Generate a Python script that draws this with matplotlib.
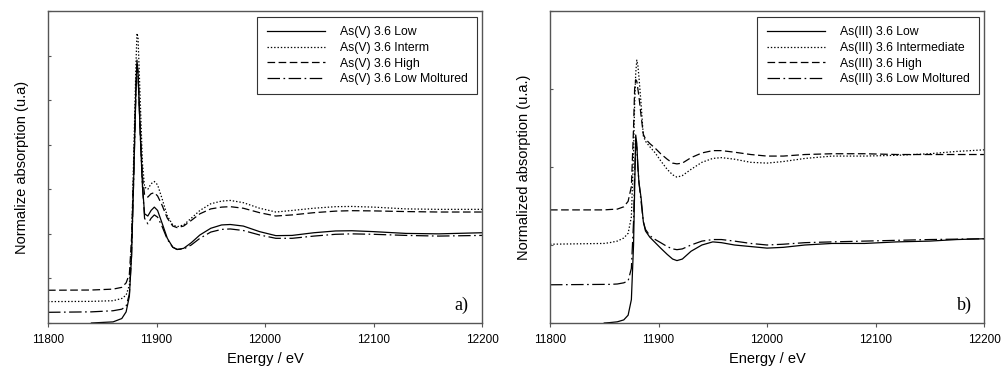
import numpy as np
import matplotlib
matplotlib.use("Agg")
import matplotlib.pyplot as plt

plt.rcParams['font.family'] = ['Liberation Sans', 'DejaVu Sans']
plt.rcParams['lines.scale_dashes'] = False

nan = np.nan

# ---- panel a) As(V) ----
energy_a = [11800, 11840, 11860, 11868, 11872, 11875, 11877, 11879, 11881, 11882,
            11883, 11885, 11887, 11889, 11892, 11895, 11898, 11901, 11905, 11910,
            11915, 11919, 11925, 11932, 11940, 11950, 11960, 11968, 11980, 11995,
            12010, 12025, 12045, 12065, 12080, 12100, 12130, 12160, 12200]
asv_low = [nan, 0.0, 0.005, 0.02, 0.05, 0.12, 0.3, 0.65, 1.05, 1.18,
           1.12, 0.85, 0.62, 0.49, 0.48, 0.505, 0.52, 0.505, 0.45, 0.38,
           0.34, 0.33, 0.335, 0.36, 0.395, 0.425, 0.44, 0.442, 0.435, 0.41,
           0.392, 0.393, 0.405, 0.413, 0.414, 0.41, 0.402, 0.40, 0.405]
asv_interm = [0.096, 0.097, 0.10, 0.11, 0.125, 0.17, 0.35, 0.75, 1.15, 1.30,
              1.28, 1.0, 0.72, 0.61, 0.60, 0.625, 0.635, 0.62, 0.56, 0.48,
              0.44, 0.432, 0.44, 0.47, 0.505, 0.535, 0.547, 0.55, 0.54, 0.515,
              0.498, 0.505, 0.515, 0.522, 0.523, 0.52, 0.512, 0.51, 0.51]
asv_high = [0.147, 0.148, 0.152, 0.16, 0.18, 0.22, 0.38, 0.7, 1.05, 1.16,
            1.12, 0.88, 0.66, 0.575, 0.565, 0.58, 0.585, 0.57, 0.53, 0.47,
            0.435, 0.428, 0.435, 0.46, 0.49, 0.512, 0.52, 0.522, 0.515, 0.495,
            0.48, 0.485, 0.495, 0.502, 0.504, 0.503, 0.50, 0.498, 0.498]
asv_moltured = [0.048, 0.05, 0.055, 0.062, 0.075, 0.13, 0.3, 0.65, 1.03, 1.16,
                1.12, 0.85, 0.62, 0.47, 0.445, 0.47, 0.485, 0.475, 0.435, 0.375,
                0.34, 0.33, 0.332, 0.35, 0.38, 0.408, 0.42, 0.422, 0.415, 0.395,
                0.38, 0.38, 0.39, 0.398, 0.40, 0.398, 0.393, 0.39, 0.393]

# ---- panel b) As(III) ----
energy_b = [11800, 11850, 11855, 11862, 11868, 11872, 11875, 11877, 11878, 11879,
            11880, 11881, 11882, 11884, 11886, 11888, 11892, 11897, 11902, 11908,
            11913, 11917, 11922, 11930, 11940, 11950, 11958, 11970, 11985, 12000,
            12015, 12035, 12060, 12090, 12120, 12150, 12175, 12200]
asiii_low = [nan, 0.0, 0.005, 0.015, 0.04, 0.1, 0.3, 1.0, 1.7, 2.41,
             2.3, 2.0, 1.8, 1.6, 1.3, 1.18, 1.1, 1.03, 0.96, 0.88,
             0.82, 0.80, 0.82, 0.92, 1.0, 1.04, 1.03, 1.0, 0.98, 0.96,
             0.97, 1.0, 1.02, 1.02, 1.04, 1.05, 1.07, 1.08]
asiii_interm = [1.01, 1.02, 1.03, 1.05, 1.09, 1.15, 1.36, 2.2, 2.8, 3.2,
                3.37, 3.3, 3.15, 2.8, 2.4, 2.33, 2.26, 2.18, 2.08, 1.97,
                1.90, 1.87, 1.89, 1.97, 2.06, 2.11, 2.12, 2.10, 2.06, 2.05,
                2.07, 2.11, 2.14, 2.14, 2.15, 2.17, 2.20, 2.22]
asiii_high = [1.45, 1.45, 1.455, 1.46, 1.49, 1.56, 1.75, 2.5, 3.0, 3.12,
              3.1, 3.0, 2.9, 2.65, 2.42, 2.36, 2.30, 2.24, 2.17, 2.10,
              2.05, 2.04, 2.05, 2.12, 2.18, 2.21, 2.21, 2.19, 2.16, 2.14,
              2.14, 2.16, 2.17, 2.17, 2.16, 2.16, 2.16, 2.16]
asiii_moltured = [0.49, 0.495, 0.495, 0.50, 0.515, 0.54, 0.7, 1.3, 1.9, 2.3,
                  2.25, 2.0, 1.8, 1.55, 1.3, 1.2, 1.12, 1.07, 1.03, 0.98,
                  0.95, 0.94, 0.95, 1.0, 1.05, 1.07, 1.07, 1.05, 1.02, 1.0,
                  1.01, 1.03, 1.04, 1.05, 1.06, 1.07, 1.075, 1.08]

labels_a = ["As(V) 3.6 Low", "As(V) 3.6 Interm", "As(V) 3.6 High", "As(V) 3.6 Low Moltured"]
labels_b = ["As(III) 3.6 Low", "As(III) 3.6 Intermediate", "As(III) 3.6 High", "As(III) 3.6 Low Moltured"]

styles = ['-', (0, (1.0, 1.4)), (0, (5.5, 2.5)), (0, (9, 2.5, 1.2, 2.5))]
frame_col = '#555555'

fig = plt.figure(figsize=(10.02, 3.76), dpi=100)
ax_a = fig.add_axes([48 / 1002, 53 / 376, 434 / 1002, 312 / 376])
ax_b = fig.add_axes([550 / 1002, 53 / 376, 434 / 1002, 312 / 376])


def dibujar(ax, energy, series, labels, ylim, yticks, ylabel, tag, tag_x):
    for vals, ls, lab in zip(series, styles, labels):
        ax.plot(energy, vals, color='black', lw=0.9, linestyle=ls, label=lab)
    ax.set_xlim(11800, 12200)
    ax.set_ylim(*ylim)
    ax.set_xticks([11800, 11900, 12000, 12100, 12200])
    ax.set_yticks(yticks)
    ax.set_yticklabels([])
    ax.tick_params(axis='x', direction='out', length=3, width=0.8, color=frame_col,
                   labelsize=8.5, pad=5)
    ax.tick_params(axis='y', direction='in', length=2, width=0.8, color=frame_col)
    for sp in ax.spines.values():
        sp.set_color(frame_col)
        sp.set_linewidth(1.0)
    ax.set_xlabel("Energy / eV", fontsize=10.5, labelpad=4)
    ax.set_ylabel(ylabel, fontsize=10.5, labelpad=10)
    leg = ax.legend(loc='upper right', bbox_to_anchor=(1 - 5 / 434, 1 - 6 / 312),
                    borderaxespad=0, fontsize=8.8, handlelength=4.8,
                    handletextpad=1.2, labelspacing=0.3, borderpad=0.75,
                    fancybox=False, framealpha=1, edgecolor='#333333')
    leg.get_frame().set_linewidth(0.8)
    ax.text(tag_x, 0.058, tag, transform=ax.transAxes, ha='right', va='center',
            fontsize=13, family='Liberation Serif')


dibujar(ax_a, energy_a, [asv_low, asv_interm, asv_high, asv_moltured], labels_a,
        (0, 1.4), np.arange(0, 1.41, 0.2), "Normalize absorption (u.a)", "a)", 0.968)
dibujar(ax_b, energy_b, [asiii_low, asiii_interm, asiii_high, asiii_moltured], labels_b,
        (0, 4), [0, 1, 2, 3, 4], "Normalized absorption (u.a.)", "b)", 0.972)

fig.savefig("out.png", dpi=100)
